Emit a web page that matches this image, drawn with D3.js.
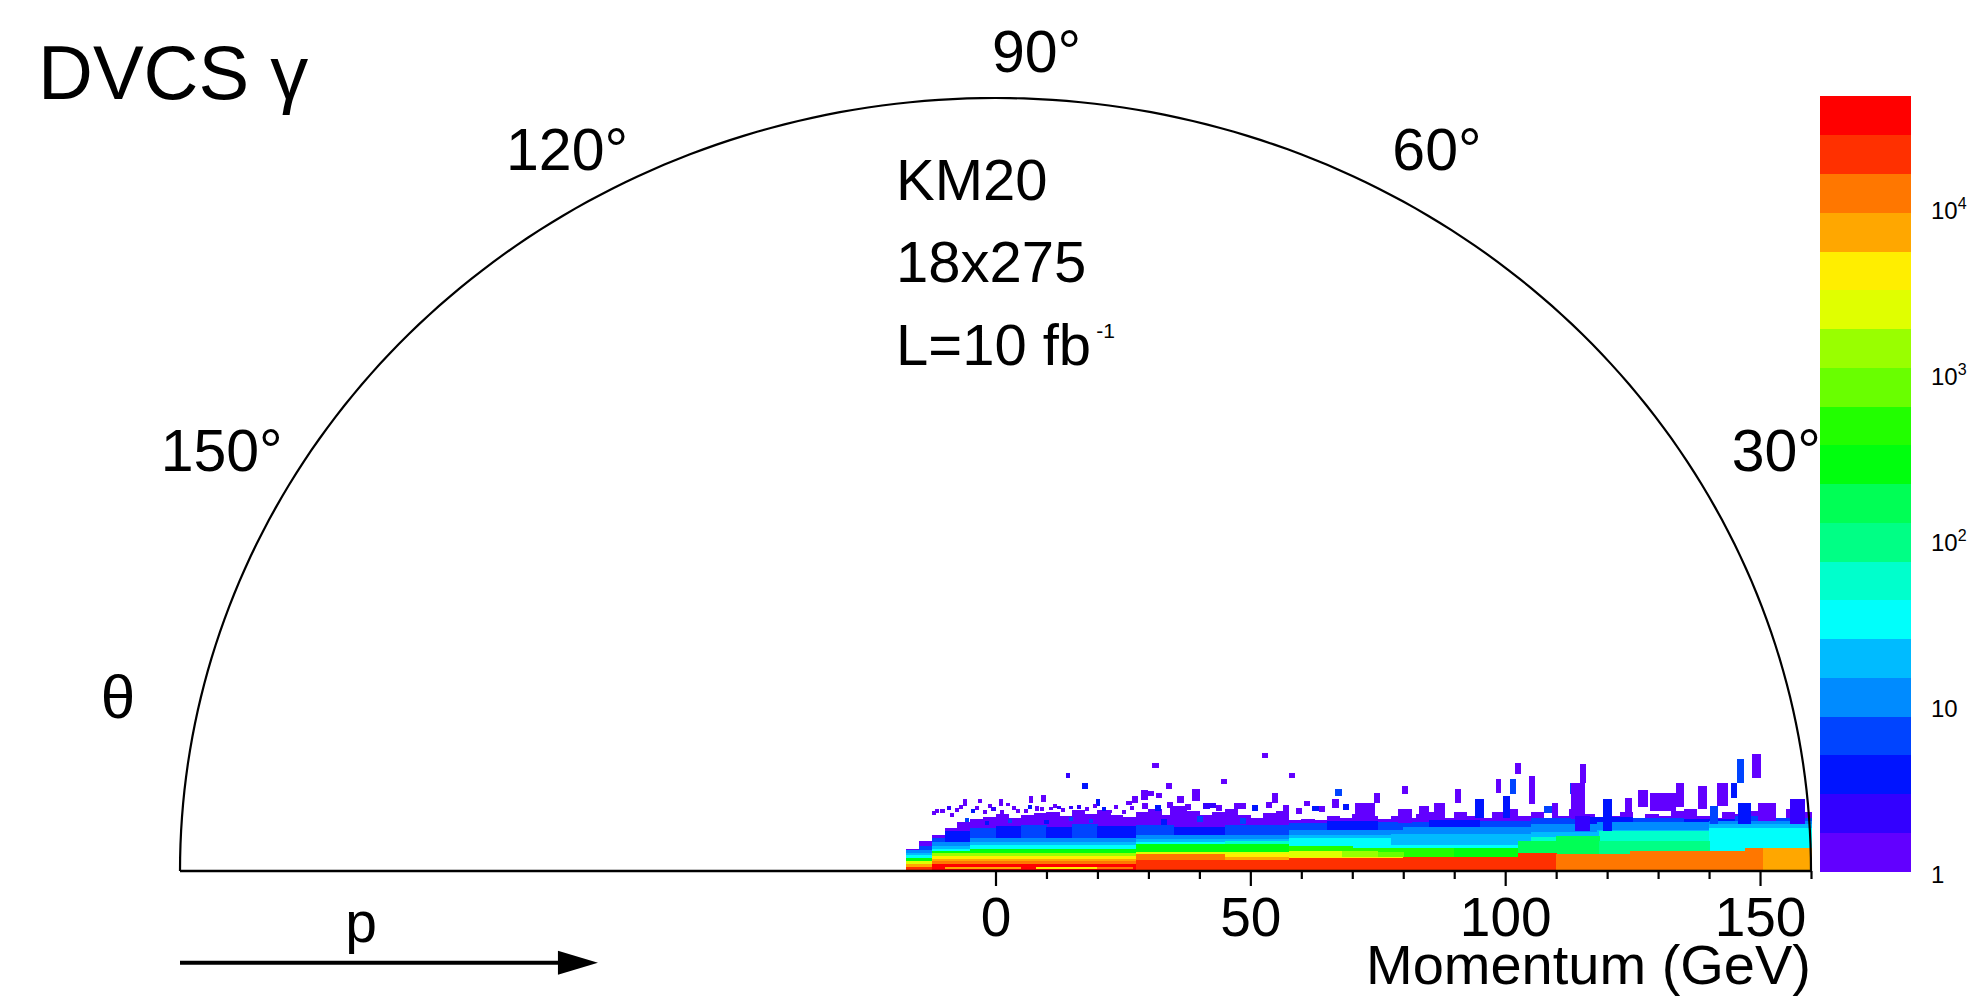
<!DOCTYPE html>
<html><head><meta charset="utf-8">
<script src="https://cdn.jsdelivr.net/npm/d3@7"></script>
<style>
html,body{margin:0;padding:0;background:#fff;}
svg{display:block;}
text{font-family:"Liberation Sans", Arial, Helvetica, sans-serif; fill:#000;}
</style></head><body>
<svg id="chart" width="1982" height="997"></svg>
<script>
// ---------------- DATA ----------------
// ROOT "pretty" palette, 20 contour levels (level 0 = lowest count)
const palette = ["#6200ff","#3300ff","#0014ff","#0044ff","#008bff","#00bbff","#00fffb","#00ffcc","#00ff85","#00ff55",
                 "#00ff0e","#22ff00","#69ff00","#99ff00","#e0ff00","#ffee00","#ffa700","#ff7700","#ff3000","#ff0000"];
const zMin = 1, zMax = 46500;
const zTicks = [1, 10, 100, 1000, 10000];
const zTickLabels = [["1",""],["10",""],["10","2"],["10","3"],["10","4"]];

const majorTicks = [0, 50, 100, 150];
const minorTicks = [10, 20, 30, 40, 60, 70, 80, 90, 110, 120, 130, 140, 160];
const angleTicks = [30, 60, 90, 120, 150];

// outer (lowest-count) envelope, columns of 2.5 GeV along the beam momentum; value = transverse momentum top (GeV)
const colStart = [-17.5,-15,-12.5,-10,-7.5,-5,-2.5,0,2.5,5,7.5,10,12.5,15,17.5,20,22.5,25,27.5,30,32.5,35,37.5,40,42.5,45,
                  47.5,50,52.5,55,57.5,60,62.5,65,67.5,70,72.5,75,77.5,80,82.5,85,87.5,90,92.5,95,97.5,100,102.5,105,107.5,
                  110,112.5,115,117.5,120,122.5,125,127.5,130,132.5,135,137.5,140,142.5,145,147.5,150,152.5,155,157.5];
const violetTop = [4.6,6.2,7.5,8.9,10.1,10.8,11.2,11.8,11.0,11.6,12.0,12.2,11.4,12.6,11.8,12.6,11.6,11.2,12.2,12.8,11.6,12.2,
                   12.4,11.6,12.2,12.8,11.6,11.0,12.0,12.4,10.6,10.8,10.6,11.4,11.0,11.8,11.4,10.8,11.4,11.0,11.8,12.2,11.0,
                   12.2,11.4,11.0,12.2,12.8,11.4,12.2,11.0,11.4,12.8,11.8,11.0,11.4,12.2,11.0,11.8,11.4,12.4,12.8,11.4,11.0,
                   12.2,11.8,12.4,11.4,11.0,12.8,12.2];

// inner bands: [x0, x1, top pT, level]
const blueBand = [[-17.5,-15,3.9,3],[-15,-12.5,5.2,3],[-12.5,-10,6.8,3],[-10,-5,8.3,2],[-5,0,9.0,3],[0,5,9.3,2],[5,10,9.5,3],
  [10,15,9.1,2],[15,20,9.7,3],[20,27.5,9.3,2],[27.5,35,9.5,3],[35,45,9.1,2],[45,57.5,9.5,3],[57.5,65,9.9,3],[65,75,10.4,2],
  [75,85,10.1,3],[85,95,10.6,2],[95,105,10.4,3],[105,115,11.0,3],[115,125,11.2,2],[125,135,11.0,3],[135,145,10.8,2],
  [145,152.5,11.4,3],[152.5,160,11.0,3]];
const azureBand = [[-17.5,-12.5,4.3,4],[-12.5,-5,6.0,4],[-5,27.5,6.8,4],[27.5,57.5,7.4,4],[57.5,80,8.5,4],[80,105,9.1,4],
  [105,118,9.7,4],[118,140,10.1,4],[140,160,10.4,4]];
const skyBand = [[-17.5,-12.5,3.7,5],[-12.5,-5,5.2,5],[-5,27.5,6.0,5],[27.5,57.5,6.6,5],[57.5,77.5,7.5,5],[77.5,105,7.7,5],
  [105,118,8.1,5],[118,140,8.5,5],[140,160,9.7,5]];
const cyanBand = [[-17.5,-12.5,3.3,6],[-12.5,-5,4.6,6],[-5,27.5,5.4,6],[27.5,45,6.0,6],[45,57.5,6.2,7],[57.5,77.5,6.8,6],
  [77.5,105,5.4,6],[105,118.5,7.0,7],[118.5,140,8.3,7],[140,160,8.9,6]];
const greenBand = [[-17.5,-12.5,2.7,10],[-12.5,-5,4.1,10],[-5,27.5,4.6,10],[27.5,57.5,5.6,10],[57.5,70,5.2,11],[70,80,4.8,11],
  [80,90,4.8,11],[90,102.5,4.8,10],[102.5,110,6.2,9],[110,118.5,7.2,9],[118.5,140,6.2,8]];
const yellowBand = [[-17.5,-12.5,2.1,14],[-12.5,27.5,3.7,13],[-12.5,27.5,3.1,15],[27.5,45,3.9,14],[45,57.5,3.9,14],
  [45,57.5,3.5,15],[57.5,68,4.1,14],[68,75,4.1,13],[75,80,3.9,12]];
const orangeBand = [[-17.5,-12.5,1.4,16],[-12.5,27.5,2.5,16],[-12.5,27.5,2.1,17],[27.5,45,3.5,17],[45,57.5,2.9,16],
  [57.5,80,2.9,15]];
const coreBand = [[-17.5,-12.5,0.8,18],[-12.5,27.5,1.5,19],[27.5,57.5,2.3,18],[57.5,80,2.7,18],[80,102.5,2.9,18],
  [102.5,110,3.7,18],[110,124.5,3.5,17],[124.5,147,4.1,17],[147,150.5,4.8,17],[150.5,160,4.8,16]];

// isolated cells: [x0, x1, pT0, pT1, level]
const cells = [
  [-10,5,0.4,0.8,16],[8,20,0.4,0.8,15],[20,27,0.4,0.8,17],
  [13.9,14.7,19.3,20.3,1],[17.0,18.2,17.0,18.2,2],[19.7,20.5,13.5,14.9,2],[6.5,7.3,14.1,15.5,0],[0.6,1.4,13.5,14.9,0],
  [2.0,2.8,13.5,14.1,0],[-3.5,-2.7,14.1,14.9,0],[-6.4,-5.6,13.5,14.9,0],[7.8,8.6,12.4,13.5,0],[12.0,12.8,12.8,13.5,1],
  [14.5,15.3,12.8,13.5,1],[-11.9,-11.1,12.0,12.8,0],[-9,-8.2,11.2,12.0,0],[4.0,4.8,12.0,12.8,0],[10.5,11.3,12.6,13.3,0],
  [22,22.8,12.0,12.6,0],[9,10,14.3,15.7,0],[-1.5,-0.7,13.0,13.8,0],
  [30.8,32.0,21.3,22.4,0],[52.3,53.5,23.4,24.4,0],[57.6,58.8,19.3,20.3,0],[44.2,45.4,18.0,19.0,0],[33.4,34.6,17.0,18.2,0],
  [29.8,31.0,15.5,16.6,0],[31.4,32.6,15.1,16.1,0],[26.8,28.0,14.1,15.5,0],[35.7,36.9,14.1,15.5,0],[38.6,40.2,14.5,17.0,0],
  [54.3,55.5,14.1,16.1,0],[66.7,67.9,15.5,17.0,3],[66.1,67.3,13.0,14.9,0],[34.3,37.6,11.0,13.5,0],[42,43.2,13,14.1,1],
  [48,49.2,12.8,14.1,0],[60.5,61.7,13.5,14.5,0],[62,63.5,12.4,13.5,2],[28.5,30,14.7,16.8,0],
  [102.0,103.2,20.1,22.4,0],[98.2,99.2,16.1,19.0,0],[101.0,102.2,15.9,19.0,3],[104.6,105.8,13.9,19.7,0],[79.8,81.0,15.9,17.6,0],
  [74.2,75.4,14.1,16.1,0],[90.2,91.4,14.1,17.0,0],[99.6,101.0,11.0,15.5,2],[107.7,109.2,12.0,13.5,3],[109.2,110.4,11.0,14.1,0],
  [112.8,114.0,15.9,18.2,3],[94.0,95.8,11.0,14.9,2],[79.0,81.7,9.9,12.8,0],[83.0,85.0,10.8,13.5,0],[86.0,88.2,10.8,14.1,0],
  [70.6,74.5,10.4,14.1,0],
  [145.5,146.9,18.2,23.2,3],[148.4,150.2,19.3,24.2,0],[114.6,115.8,18.2,22.2,0],[113.0,115.6,10.8,18.2,0],[119.2,120.9,8.3,14.9,2],
  [123.6,124.9,12.0,15.1,0],[128.4,133.6,12.4,16.1,0],[137.9,139.5,12.8,17.6,0],[141.5,143.7,13.5,18.2,0],[144.4,145.4,15.1,18.2,2],
  [140.2,141.8,9.7,13.5,3],[145.7,148.3,9.7,14.1,2],[149.6,153.2,10.4,14.1,0],[155.8,158.8,9.7,14.9,1],[113.7,116.6,8.3,11.4,1],
  [126,128,13.3,16.8,0],[133.5,135,13.3,18.2,0]
];
// dense low-count speckle above the body: [x0, x1, pT0, pT1, level]
const speckles = [
  [-12.5,-11.7,11.6,12.4,0],[-10.8,-10.0,12.0,12.8,0],[-9.6,-8.8,12.6,13.4,1],[-8.0,-7.2,12.2,13.0,0],[-7.2,-6.4,12.9,13.7,0],
  [-4.8,-4.0,12.0,12.8,2],[-4.0,-3.2,12.6,13.4,0],[-2.4,-1.6,11.8,12.6,0],[-0.8,0.0,12.4,13.2,1],[0.8,1.6,11.8,12.6,0],
  [3.2,4.0,12.6,13.4,0],[5.6,6.4,12.0,12.8,0],[6.4,7.2,12.9,13.7,2],[8.8,9.6,12.4,13.2,0],[11.2,12.0,13.1,13.9,0],
  [12.8,13.6,12.2,13.0,0],[16.0,16.8,12.9,13.7,1],[17.6,18.4,12.4,13.2,0],[19.2,20.0,13.1,13.9,0],[20.8,21.6,12.4,13.2,2],
  [23.2,24.0,12.9,13.7,0],[24.8,25.6,11.8,12.6,0],[26.4,27.2,12.6,13.4,0],[-6.0,-5.2,10.2,11.0,3],[2.4,3.2,10.0,10.8,3],
  [14.4,15.2,10.4,11.2,3],[21.6,22.4,11.6,12.4,0],[-2.0,-1.2,9.6,10.4,2],[9.6,10.4,9.8,10.6,2],[18.4,19.2,9.9,10.7,3],
  [28.8,30.0,12.8,14.0,0],[31.2,32.4,12.4,13.6,2],[33.6,34.8,13.0,14.2,0],[37.2,38.4,12.6,13.8,0],[40.8,42.0,12.8,14.0,1],
  [43.2,44.4,12.4,13.6,0],[46.8,48.0,12.8,14.0,0],[50.4,51.6,12.4,13.6,2],[53.0,54.2,13.0,14.2,0],[56.4,57.6,12.4,13.6,0],
  [59.0,60.2,11.8,13.0,0],[63.5,64.7,12.2,13.4,0],[68.2,69.4,12.6,13.8,2],[39.6,40.8,10.2,11.4,3],[25.6,26.8,13.6,14.4,0],
  [32.4,33.6,9.6,10.8,2],[48.0,49.2,9.8,11.0,3]
];

// ---------------- DRAW ----------------
const svg = d3.select('#chart');
const xS = d3.scaleLinear().domain([-160, 160]).range([180, 1811]);
const yS = d3.scaleLinear().domain([0, 160]).range([871, 98]);
const colorOf = d3.scaleOrdinal(d3.range(20), palette);

const gH = svg.append('g').attr('shape-rendering', 'crispEdges');
gH.selectAll('rect.env').data(violetTop).join('rect').attr('class', 'env')
  .attr('x', (d, i) => xS(colStart[i]))
  .attr('width', (d, i) => xS(Math.min(colStart[i] + 2.5, 160)) - xS(colStart[i]) + 0.5)
  .attr('y', d => yS(d)).attr('height', d => yS(0) - yS(d))
  .attr('fill', colorOf(0));

[blueBand, azureBand, skyBand, cyanBand, greenBand, yellowBand, orangeBand, coreBand].forEach(band => {
  gH.append('g').selectAll('rect').data(band).join('rect')
    .attr('x', d => xS(d[0])).attr('width', d => xS(d[1]) - xS(d[0]) + 0.5)
    .attr('y', d => yS(d[2])).attr('height', d => yS(0) - yS(d[2]))
    .attr('fill', d => colorOf(d[3]));
});
[cells, speckles].forEach(list => {
  gH.append('g').selectAll('rect').data(list).join('rect')
    .attr('x', d => xS(d[0])).attr('width', d => xS(d[1]) - xS(d[0]))
    .attr('y', d => yS(d[3])).attr('height', d => yS(d[2]) - yS(d[3]))
    .attr('fill', d => colorOf(d[4]));
});

// semicircle frame
const R = 160;
const arcPts = d3.range(0, 181, 1).map(a => [xS(R * Math.cos(a * Math.PI / 180)), yS(R * Math.sin(a * Math.PI / 180))]);
svg.append('path').attr('d', d3.line()(arcPts)).attr('fill', 'none').attr('stroke', '#000').attr('stroke-width', 2.2);
svg.append('line').attr('x1', xS(-R)).attr('x2', xS(R)).attr('y1', yS(0)).attr('y2', yS(0))
  .attr('stroke', '#000').attr('stroke-width', 2.4);

// angle labels
const nudge = {30: [11, 0], 60: [-3, 8], 90: [41, 23], 120: [16, 8], 150: [-4, 0]};
svg.append('g').selectAll('text').data(angleTicks).join('text')
  .attr('x', a => xS(R * 1.09 * Math.cos(a * Math.PI / 180)) + nudge[a][0])
  .attr('y', a => yS(R * 1.09 * Math.sin(a * Math.PI / 180)) + nudge[a][1] + 21)
  .attr('text-anchor', 'middle').attr('font-size', 59).text(a => a + '°');

// momentum axis
const axG1 = svg.append('g').attr('transform', `translate(0,${yS(0)})`)
  .call(d3.axisBottom(xS).tickValues(minorTicks).tickSize(8).tickFormat(''));
const axG2 = svg.append('g').attr('transform', `translate(0,${yS(0)})`)
  .call(d3.axisBottom(xS).tickValues(majorTicks).tickSize(15).tickPadding(11).tickFormat(d3.format('d')));
[axG1, axG2].forEach(g => {
  g.select('.domain').remove();
  g.selectAll('.tick line').attr('stroke', '#000').attr('stroke-width', 2.2);
  g.selectAll('.tick text').attr('font-size', 55).attr('font-family', '"Liberation Sans", Arial, sans-serif').attr('fill', '#000');
  g.attr('font-family', null).attr('font-size', null);
});
svg.append('text').attr('x', xS(160)).attr('y', 984).attr('text-anchor', 'end').attr('font-size', 56).text('Momentum (GeV)');

// titles
svg.append('text').attr('x', 38).attr('y', 99).attr('font-size', 76).text('DVCS γ');
svg.append('text').attr('x', 896).attr('y', 200).attr('font-size', 58).text('KM20');
svg.append('text').attr('x', 896).attr('y', 282).attr('font-size', 58).text('18x275');
const lt = svg.append('text').attr('x', 896).attr('y', 365).attr('font-size', 58).text('L=10 fb');
lt.append('tspan').attr('font-size', 21).attr('dx', 5).attr('dy', -27).text('-1');
svg.append('text').attr('x', 118).attr('y', 718).attr('text-anchor', 'middle').attr('font-size', 62).text('θ');

// beam arrow
const ay = yS(-19);
svg.append('line').attr('x1', xS(-160)).attr('x2', xS(-80)).attr('y1', ay).attr('y2', ay)
  .attr('stroke', '#000').attr('stroke-width', 4);
const tip = xS(-78);
svg.append('path').attr('d', `M${tip - 40},${ay - 12} L${tip},${ay} L${tip - 40},${ay + 12} Z`).attr('fill', '#000');
svg.append('text').attr('x', 361).attr('y', 942).attr('text-anchor', 'middle').attr('font-size', 57).text('p');

// palette axis
const yC = d3.scaleLog().domain([zMin, zMax]).range([871, 96]);
const L = Math.log10(zMax / zMin);
const bands = d3.range(20).map(k => [Math.pow(10, k * L / 20), Math.pow(10, (k + 1) * L / 20)]);
svg.append('g').attr('shape-rendering', 'crispEdges').selectAll('rect').data(bands).join('rect')
  .attr('x', 1820).attr('width', 91)
  .attr('y', d => yC(d[1])).attr('height', d => yC(d[0]) - yC(d[1]) + 0.5)
  .attr('fill', (d, i) => colorOf(i));
const zl = svg.append('g').selectAll('text').data(zTicks).join('text')
  .attr('x', 1931).attr('y', d => yC(d) + 12).attr('font-size', 24);
zl.text((d, i) => zTickLabels[i][0]);
zl.append('tspan').attr('font-size', 16).attr('dy', -10).text((d, i) => zTickLabels[i][1]);
</script></body></html>
